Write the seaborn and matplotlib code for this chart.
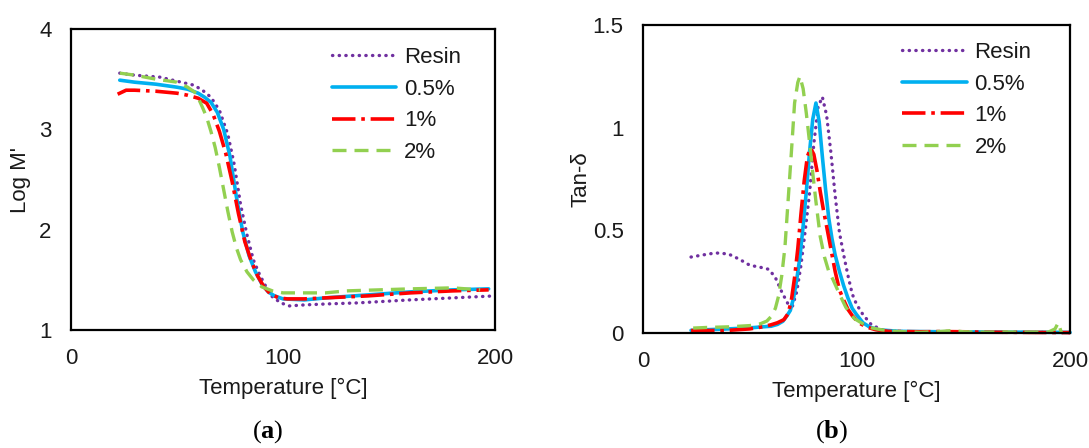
import matplotlib
matplotlib.use("Agg")
import matplotlib.pyplot as plt
import seaborn as sns
from matplotlib.ticker import FuncFormatter

# ---- Storage modulus (log M') vs temperature ----
resin_T_m = [23, 30, 42, 50, 58, 62, 66, 70, 74, 77, 80, 83, 86, 89, 92, 95, 99, 103, 110, 121, 135, 160, 180, 200]
resin_M = [3.56, 3.54, 3.52, 3.48, 3.44, 3.39, 3.32, 3.19, 2.95, 2.65, 2.25, 1.95, 1.70, 1.55, 1.43, 1.33, 1.27, 1.24, 1.25, 1.26, 1.27, 1.30, 1.32, 1.34]

p05_T_m = [23, 30, 40, 50, 55, 60, 63, 66, 69, 72, 75, 78, 81, 84, 87, 90, 93, 96, 100, 110, 120, 140, 160, 180, 197]
p05_M = [3.49, 3.47, 3.45, 3.42, 3.40, 3.36, 3.32, 3.27, 3.17, 3.00, 2.73, 2.33, 1.98, 1.74, 1.58, 1.46, 1.38, 1.34, 1.31, 1.30, 1.32, 1.35, 1.38, 1.40, 1.41]

p1_T_m = [22, 26, 30, 40, 50, 55, 60, 64, 67, 70, 73, 76, 79, 82, 85, 88, 91, 94, 98, 102, 110, 120, 140, 160, 180, 197]
p1_M = [3.35, 3.39, 3.39, 3.38, 3.36, 3.34, 3.31, 3.26, 3.15, 2.98, 2.76, 2.48, 2.16, 1.88, 1.69, 1.54, 1.43, 1.36, 1.32, 1.31, 1.31, 1.32, 1.34, 1.37, 1.39, 1.40]

p2_T_m = [23, 30, 40, 50, 55, 59, 62, 64, 66, 68, 70, 72, 74, 76, 78, 80, 83, 86, 90, 95, 100, 110, 120, 130, 145, 160, 180, 193]
p2_M = [3.56, 3.54, 3.50, 3.47, 3.42, 3.36, 3.22, 3.12, 2.98, 2.82, 2.62, 2.40, 2.18, 1.98, 1.82, 1.70, 1.58, 1.50, 1.43, 1.39, 1.37, 1.37, 1.37, 1.39, 1.40, 1.41, 1.42, 1.40]

# ---- Loss factor (tan delta) vs temperature ----
resin_T_t = [22.5, 28, 34, 40, 45, 50, 55, 59, 62, 65, 68, 70, 72, 74, 76, 78, 80, 82, 84, 86, 88, 90, 92, 94, 96, 98, 100, 103, 107, 112, 118, 130, 150, 170, 190, 200]
resin_tan = [0.37, 0.38, 0.39, 0.385, 0.36, 0.33, 0.32, 0.31, 0.27, 0.20, 0.14, 0.13, 0.20, 0.33, 0.50, 0.68, 0.92, 1.10, 1.15, 1.06, 0.88, 0.67, 0.49, 0.38, 0.28, 0.19, 0.14, 0.09, 0.04, 0.015, 0.008, 0.005, 0.004, 0.003, 0.003, 0.002]

p05_T_t = [22.5, 30, 40, 50, 56, 60, 63, 65.5, 67.5, 69, 70.5, 72, 73.5, 75, 76.5, 78, 79.5, 81, 82.5, 84, 85.5, 87, 88.5, 90, 92, 94, 96, 98, 100, 103, 106, 110, 120, 140, 160, 180, 200]
p05_tan = [0.013, 0.016, 0.02, 0.025, 0.03, 0.033, 0.042, 0.057, 0.085, 0.11, 0.17, 0.26, 0.37, 0.52, 0.69, 0.88, 1.04, 1.12, 1.03, 0.86, 0.70, 0.56, 0.46, 0.38, 0.30, 0.23, 0.17, 0.12, 0.09, 0.05, 0.03, 0.016, 0.008, 0.006, 0.005, 0.004, 0.003]

p1_T_t = [22.5, 30, 40, 50, 56, 60, 63, 66, 68, 69.5, 71, 72.5, 74, 75.5, 77, 78.5, 80, 81.5, 83, 84.5, 86, 88, 90, 92, 94, 96, 98, 101, 105, 109, 115, 130, 140, 150, 160, 180, 200]
p1_tan = [0.012, 0.012, 0.013, 0.02, 0.03, 0.04, 0.05, 0.065, 0.095, 0.16, 0.27, 0.41, 0.58, 0.74, 0.86, 0.90, 0.87, 0.79, 0.69, 0.60, 0.52, 0.41, 0.30, 0.21, 0.16, 0.115, 0.085, 0.05, 0.028, 0.016, 0.008, 0.006, 0.007, 0.006, 0.004, 0.003, 0.002]

p2_T_t = [23.5, 30, 40, 50, 55, 58, 60, 62, 63.5, 65, 66.5, 68, 69.5, 71, 72.5, 73.5, 75, 76.5, 78, 79.5, 81, 83, 85, 87, 89, 92, 95, 99, 103, 107, 112, 118, 130, 140, 145, 150, 160, 170, 180, 190, 193, 194.5, 196]
p2_tan = [0.024, 0.027, 0.03, 0.036, 0.045, 0.058, 0.08, 0.12, 0.18, 0.28, 0.42, 0.65, 0.88, 1.12, 1.22, 1.25, 1.19, 1.07, 0.93, 0.78, 0.64, 0.47, 0.37, 0.30, 0.26, 0.19, 0.125, 0.07, 0.045, 0.025, 0.015, 0.008, 0.003, 0.008, 0.012, 0.006, 0.004, 0.005, 0.004, 0.005, 0.02, 0.05, 0.0]

labels = ["Resin", "0.5%", "1%", "2%"]
colors = ["#7030A0", "#00B0F0", "#FF0000", "#92D050"]

sns.set_theme(style="white")
plt.rcParams["font.family"] = ["Liberation Sans", "DejaVu Sans"]
plt.rcParams["mathtext.fontset"] = "custom"
plt.rcParams["mathtext.bf"] = "Liberation Serif:bold"
plt.rcParams["mathtext.rm"] = "Liberation Serif"

styles = [
    dict(linestyle=(0, (0.1, 1.9)), dash_capstyle="round", linewidth=2.4),
    dict(linestyle="-", linewidth=2.6),
    dict(linestyle=(0, (6.5, 1.6, 1.0, 1.6)), linewidth=2.6),
    dict(linestyle=(0, (4.2, 2.4)), linewidth=2.4),
]

FS = 16
TXT = "#1a1a1a"

fig = plt.figure(figsize=(10.89, 4.48), dpi=100)
ax1 = fig.add_axes([71 / 1089, 1 - 330 / 448, (495 - 71) / 1089, (330 - 29) / 448])
ax2 = fig.add_axes([643 / 1089, 1 - 333 / 448, (1070 - 643) / 1089, (333 - 25) / 448])

left_series = [(resin_T_m, resin_M), (p05_T_m, p05_M), (p1_T_m, p1_M), (p2_T_m, p2_M)]
right_series = [(resin_T_t, resin_tan), (p05_T_t, p05_tan), (p1_T_t, p1_tan), (p2_T_t, p2_tan)]

for ax, series in ((ax1, left_series), (ax2, right_series)):
    for (t, v), lab, col, st in zip(series, labels, colors, styles):
        sns.lineplot(x=t, y=v, ax=ax, color=col, label=lab, sort=False,
                     estimator=None, clip_on=False, **st)

def fmt(v, pos):
    return f"{v:g}"

ax1.set_xlim(0, 200)
ax1.set_ylim(1, 4)
ax1.set_yticks([1, 2, 3, 4])
ax1.set_ylabel("Log M'", fontsize=FS, color=TXT, labelpad=6)

ax2.set_xlim(0, 200)
ax2.set_ylim(0, 1.5)
ax2.set_yticks([0, 0.5, 1, 1.5])
ax2.set_ylabel("Tan-δ", fontsize=FS, color=TXT, labelpad=1)

for ax in (ax1, ax2):
    ax.set_xticks([0, 100, 200])
    ax.xaxis.set_major_formatter(FuncFormatter(fmt))
    ax.yaxis.set_major_formatter(FuncFormatter(fmt))
    ax.set_xlabel("Temperature [°C]", fontsize=FS, color=TXT, labelpad=6)
    ax.tick_params(axis="x", direction="in", length=5, width=1.5, color="black",
                   labelsize=FS, labelcolor=TXT, pad=13)
    ax.tick_params(axis="y", length=0, labelsize=FS, labelcolor=TXT, pad=14)
    for sp in ax.spines.values():
        sp.set_visible(True)
        sp.set_color("black")
        sp.set_linewidth(1.6)
    ax.grid(False)

leg_kw = dict(frameon=False, fontsize=FS, handlelength=2.9, handletextpad=0.35,
              labelspacing=0.48, borderpad=0, borderaxespad=0, loc="upper left",
              labelcolor=TXT)
ax1.legend(bbox_to_anchor=(0.615, 0.94), **leg_kw)
ax2.legend(bbox_to_anchor=(0.607, 0.945), **leg_kw)

fig.text(268 / 1089, 1 - 432 / 448, r"($\mathbf{a}$)", fontsize=19, ha="center", va="center",
         family="Liberation Serif", color="black")
fig.text(832 / 1089, 1 - 432 / 448, r"($\mathbf{b}$)", fontsize=19, ha="center", va="center",
         family="Liberation Serif", color="black")

fig.savefig("out.png", dpi=100, facecolor="white")
